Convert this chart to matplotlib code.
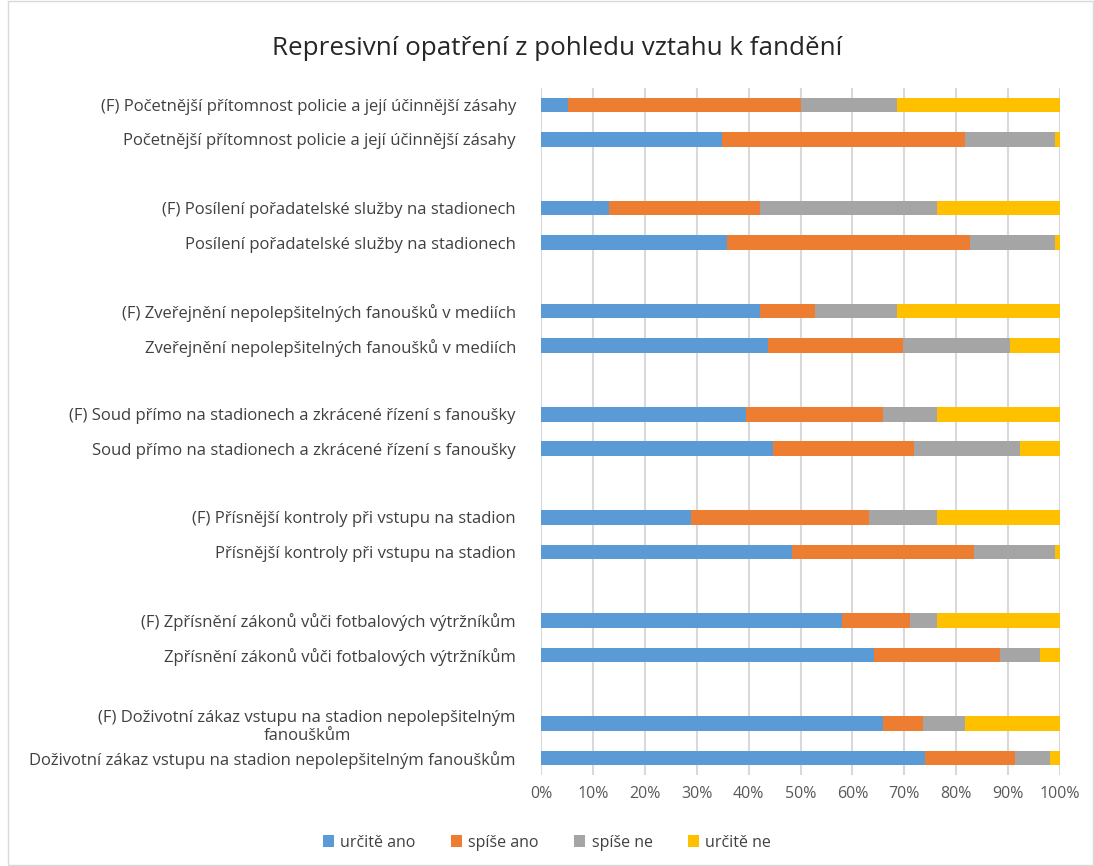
import matplotlib.pyplot as plt
from matplotlib.patches import Rectangle
import numpy as np

plt.rcParams['font.family'] = ['Open Sans', 'DejaVu Sans']

labels = [
    '(F) Početnější přítomnost policie a její účinnější zásahy',
    'Početnější přítomnost policie a její účinnější zásahy',
    '(F) Posílení pořadatelské služby na stadionech',
    'Posílení pořadatelské služby na stadionech',
    '(F) Zveřejnění nepolepšitelných fanoušků v mediích',
    'Zveřejnění nepolepšitelných fanoušků v mediích',
    '(F) Soud přímo na stadionech a zkrácené řízení s fanoušky',
    'Soud přímo na stadionech a zkrácené řízení s fanoušky',
    '(F) Přísnější kontroly při vstupu na stadion',
    'Přísnější kontroly při vstupu na stadion',
    '(F) Zpřísnění zákonů vůči fotbalových výtržníkům',
    'Zpřísnění zákonů vůči fotbalových výtržníkům',
    '(F) Doživotní zákaz vstupu na stadion nepolepšitelným\nfanouškům',
    'Doživotní zákaz vstupu na stadion nepolepšitelným fanouškům',
]

urcite_ano = [5.2, 34.9, 13.1, 35.9, 42.1, 43.7, 39.5, 44.7, 28.9, 48.4, 57.9, 64.1, 65.8, 73.9]
spise_ano = [44.8, 46.7, 29.0, 46.7, 10.6, 26.1, 26.3, 27.2, 34.2, 35.1, 13.1, 24.3, 7.8, 17.4]
spise_ne = [18.5, 17.4, 34.1, 16.4, 15.8, 20.5, 10.4, 20.4, 13.1, 15.5, 5.2, 7.7, 8.0, 6.8]
urcite_ne = [31.5, 1.0, 23.8, 1.0, 31.5, 9.7, 23.8, 7.7, 23.8, 1.0, 23.8, 3.9, 18.4, 1.9]

series = [
    ('určitě ano', urcite_ano, '#5b9bd5'),
    ('spíše ano', spise_ano, '#ed7d31'),
    ('spíše ne', spise_ne, '#a5a5a5'),
    ('určitě ne', urcite_ne, '#ffc000'),
]

# pairs of bars separated by an empty slot
pos = np.array([3 * (i // 2) + (i % 2) for i in range(len(labels))])

fig = plt.figure(figsize=(10.94, 8.66), dpi=100)
ax = fig.add_axes([0.4945, 0.105, 0.4745, 0.7935])

left = np.zeros(len(labels))
for name, vals, col in series:
    vals = np.array(vals)
    ax.barh(pos, vals, left=left, height=0.42, color=col, label=name, zorder=3)
    left += vals

ax.set_xlim(0, 100)
ax.set_ylim(pos.max() + 0.5, -0.5)
ax.set_xticks(np.arange(0, 101, 10))
ax.set_xticklabels([f'{v}%' for v in range(0, 101, 10)], fontsize=11.5, color='#595959')
ax.set_yticks(pos)
ax.set_yticklabels(labels, fontsize=12, color='#404040')
for t in ax.get_yticklabels():
    t.set_multialignment('center')
ax.tick_params(axis='y', length=0, pad=18)
ax.tick_params(axis='x', length=0, pad=8)
ax.xaxis.grid(True, color='#d9d9d9', linewidth=1.5, zorder=0)
for s in ax.spines.values():
    s.set_visible(False)

fig.suptitle('Represivní opatření z pohledu vztahu k fandění', x=0.509, y=0.958,
             fontsize=18.7, color='#262626')

fig.legend(loc='center', bbox_to_anchor=(0.5, 0.027), ncol=4, frameon=False,
           fontsize=11.5, handlelength=0.7, handleheight=0.7, columnspacing=2.2,
           handletextpad=0.4, labelcolor='#404040')

fig.patches.append(Rectangle((0.007, 0.001), 0.992, 0.998, transform=fig.transFigure,
                             fill=False, edgecolor='#d9d9d9', linewidth=1))

fig.savefig('out.png', dpi=100)
